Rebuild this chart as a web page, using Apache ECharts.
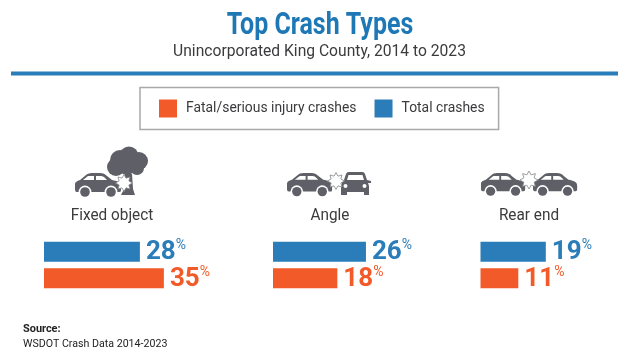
<!DOCTYPE html>
<html><head><meta charset="utf-8">
<style>html,body{margin:0;padding:0;background:#fff}#c{width:618px;height:352px}</style>
<script src="https://cdn.jsdelivr.net/npm/echarts@6/dist/echarts.min.js"></script></head>
<body><div id="c"></div>
<script>
const categories = ['Fixed object', 'Angle', 'Rear end'];
const totalCrashes = [28, 26, 19];
const fatalSerious = [35, 18, 11];
const seriesNames = ['Total crashes', 'Fatal/serious injury crashes'];
const titleText = 'Top Crash Types';
const subtitleText = 'Unincorporated King County, 2014 to 2023';
const sourceHead = 'Source:';
const sourceText = 'WSDOT Crash Data 2014-2023';

const BLUE = '#2a7db9', ORANGE = '#f25a29', INK = '#3b3b3d', ICON = '#5e5f67';
const panels = [{left: 44, width: 137, cx: 112}, {left: 273, width: 143, cx: 330}, {left: 480.5, width: 148, cx: 529}];
const FONT = 'Roboto, sans-serif';

const G = echarts.graphic;
const shapes = {
  carBody: 'M2 19C0 19 0 17 0 15L0 11C0 9 2 8 5 7L11 2C12 1 14 0 17 0L25 0C28 0 30 1 32 3L37 7C42 8 46 9 46 13L46 17C46 19 45 19 43 19Z',
  carWinA: 'M8 7L13 3L19 3L19 7Z',
  carWinB: 'M21 3L26 3C28 3 29 4 30 5L32 7L21 7Z',
  frontBody: 'M5 8L7 2C8 0 9 0 11 0L22 0C24 0 25 0 26 2L28 8L32 9L32 11L29 11L30 14L30 23L25 23L25 20L8 20L8 23L2 23L2 14L3 11L0 11L0 9Z',
  frontWin: 'M8 8L9.5 3L23.5 3L25 8Z',
  trunk: 'M4 0L11 0L12 15L14 21L0 21L3 15Z'
};
Object.keys(shapes).forEach(k => G.registerShape(k, G.extendPath(shapes[k], {})));

function rich(color) {
  return {
    v: {fontFamily: FONT, fontWeight: 700, fontSize: 26, color: color, lineHeight: 28},
    p: {fontFamily: FONT, fontWeight: 400, fontSize: 14, color: color, verticalAlign: 'top', padding: [0, 0, 11, 0], lineHeight: 14}
  };
}
function barSeries(name, values, color, i) {
  return {
    type: 'bar', name: name, xAxisIndex: i, yAxisIndex: i, barWidth: 20, barGap: '33%',
    data: [values[i]], itemStyle: {color: color}, animation: false, silent: true,
    label: {show: true, position: 'right', distance: 6, offset: [0, 1], formatter: p => '{v|' + p.value + '}{p|%}', rich: rich(color)}
  };
}
function txt(text, x, y, font, fill, sx, align) {
  return {type: 'text', x: x, y: y, scaleX: sx || 1, silent: true,
    style: {text: text, x: 0, y: 0, font: font, fill: fill, textAlign: align || 'center', textVerticalAlign: 'middle'}};
}
function pathEl(type, fill, x, y) {
  return {type: type, x: x || 0, y: y || 0, silent: true, shape: {}, style: {fill: fill}};
}
function car(x, y, s) {
  const wheel = (cx) => [
    {type: 'circle', silent: true, shape: {cx: cx, cy: 19, r: 6.4}, style: {fill: '#fff'}},
    {type: 'circle', silent: true, shape: {cx: cx, cy: 19, r: 4.8}, style: {fill: ICON}}];
  return {type: 'group', x: x, y: y, scaleX: s, scaleY: s, children: [
    pathEl('carBody', ICON), pathEl('carWinA', '#fff'), pathEl('carWinB', '#fff'),
    ...wheel(10), ...wheel(36)]};
}
function frontCar(x, y) {
  return {type: 'group', x: x, y: y, children: [
    pathEl('frontBody', ICON), pathEl('frontWin', '#fff'),
    {type: 'circle', silent: true, shape: {cx: 6.5, cy: 14, r: 2}, style: {fill: '#fff'}},
    {type: 'circle', silent: true, shape: {cx: 25.5, cy: 14, r: 2}, style: {fill: '#fff'}}]};
}
function star(cx, cy, r) {
  const pts = [], n = 8;
  for (let k = 0; k < n * 2; k++) {
    const a = k * Math.PI / n - Math.PI / 2, rr = k % 2 ? r * 0.62 : r;
    pts.push([rr * Math.cos(a), rr * Math.sin(a)]);
  }
  return {type: 'polygon', silent: true, x: cx, y: cy, shape: {points: pts}, style: {fill: '#fff', stroke: '#85858c', lineWidth: 0.8}};
}
function tree() {
  const blob = (cx, cy, r) => ({type: 'circle', silent: true, shape: {cx: cx, cy: cy, r: r}, style: {fill: ICON}});
  return [
    blob(120, 160, 10), blob(129, 156, 9.5), blob(139, 161, 9), blob(116, 167, 9), blob(127, 166, 9), blob(137, 168, 7),
    pathEl('trunk', ICON, 121, 174)
  ];
}

const option = {
  backgroundColor: '#fff', animation: false,
  legend: {
    show: true, left: 140, top: 87.5, orient: 'horizontal', selectedMode: false,
    data: [seriesNames[1], seriesNames[0]], itemWidth: 18, itemHeight: 18, itemGap: 18,
    padding: [12, 14, 12, 19], borderColor: '#a9a9a9', borderWidth: 1.5, backgroundColor: '#fff',
    icon: 'rect', textStyle: {fontFamily: FONT, fontSize: 13.9, color: INK, padding: [0, 0, 0, 4]}
  },
  grid: panels.map(p => ({left: p.left, width: p.width, top: 238.5, height: 53})),
  xAxis: panels.map((p, i) => ({type: 'value', gridIndex: i, min: 0, max: 40, show: false})),
  yAxis: panels.map((p, i) => ({type: 'category', gridIndex: i, inverse: true, data: [categories[i]], show: false})),
  series: panels.flatMap((p, i) => [barSeries(seriesNames[0], totalCrashes, BLUE, i), barSeries(seriesNames[1], fatalSerious, ORANGE, i)]),
  graphic: {elements: [
    txt(titleText, 320, 26, '700 32px ' + FONT, '#1f78b6', 0.78),
    txt(subtitleText, 319.5, 52, '400 17px ' + FONT, INK, 0.92),
    {type: 'rect', silent: true, shape: {x: 11, y: 71.5, width: 607, height: 4}, style: {fill: BLUE}},
    ...categories.map((c, i) => txt(c, panels[i].cx, 215.5, '400 16.5px ' + FONT, INK, 0.93)),
    txt(sourceHead, 23, 329, '700 11.5px ' + FONT, '#222', 0.95, 'left'),
    txt(sourceText, 23, 344, '400 11.5px ' + FONT, '#222', 0.925, 'left'),
    ...tree(), car(75, 173, 1), star(124, 183, 8.5),
    car(287, 173, 0.98), frontCar(339, 172), star(336, 181, 8.5),
    car(481, 173, 0.96), car(533, 173, 0.96), star(529, 180, 9)
  ]}
};
const chart = echarts.init(document.getElementById('c'), null, {renderer: 'canvas'});
chart.setOption(option);
</script></body></html>
